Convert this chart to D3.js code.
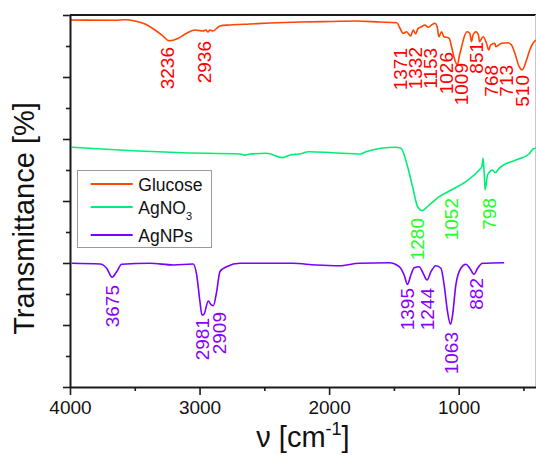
<!DOCTYPE html>
<html>
<head>
<meta charset="utf-8">
<script src="https://cdn.jsdelivr.net/npm/d3@7"></script>
<style>
  html, body { margin: 0; padding: 0; background: #fff; }
  svg { display: block; font-family: "Liberation Sans", Arial, sans-serif; }
</style>
</head>
<body>
<svg id="chart" width="536" height="455"></svg>
<script>
// ---------- data ----------
const seriesNames = ["Glucose", "AgNO3", "AgNPs"];

const glucoseWn = [4000,3653,3576,3498,3421,3344,3282,3236,3167,3097,3035,2974,2951,2935,2920,2897,2843,2765,2611,2457,2225,1994,1801,1608,1477,1454,1428,1402,1371,1351,1332,1313,1287,1261,1235,1209,1184,1166,1153,1132,1114,1093,1073,1055,1037,1009,996,977,957,934,914,901,889,867,847,840,811,785,768,754,721,713,669,618,592,566,533,510,476,451,425,404];
const glucoseT  = [59.19,59.15,59.24,59.03,58.55,57.58,56.61,55.85,56.21,57.10,57.58,57.42,57.58,57.26,57.58,57.42,58.23,58.39,58.55,58.71,58.87,58.95,59.03,58.87,58.76,57.90,57.05,57.31,56.61,57.58,56.94,57.85,58.11,58.39,58.02,58.39,58.66,58.11,56.50,57.31,56.50,56.40,56.24,54.89,53.27,51.94,53.27,54.89,56.50,57.31,57.05,55.69,56.77,57.31,56.77,55.69,56.50,55.44,54.35,55.16,55.44,54.89,55.44,55.53,55.16,53.82,51.66,51.13,52.74,54.35,55.48,55.97];

const agno3Wn = [3987,3514,3128,2688,2650,2611,2482,2359,2302,2231,2154,1973,1755,1716,1485,1446,1394,1356,1317,1284,1228,1150,1047,944,842,821,811,803,796,777,739,718,688,559,456,429,404];
const agno3T  = [38.66,38.11,37.79,37.58,37.40,37.58,37.69,37.00,37.42,37.58,37.95,37.79,37.58,37.95,38.66,38.50,35.53,32.31,29.08,28.44,29.35,30.69,31.89,33.11,35.00,35.53,36.89,34.52,31.77,34.19,35.00,34.56,35.27,36.61,37.58,38.34,38.50];

const agnpsWn = [3987,3769,3717,3675,3640,3601,3383,3203,3049,3022,2997,2981,2966,2933,2909,2894,2868,2843,2791,2688,2482,2282,2102,1922,1768,1536,1459,1421,1395,1369,1343,1305,1274,1244,1214,1176,1137,1112,1086,1063,1047,1022,983,944,914,882,854,816,649];
const agnpsT  = [19.95,19.84,19.15,17.70,18.60,19.79,19.95,19.68,19.84,18.06,13.76,11.61,11.73,13.87,13.23,13.11,15.37,18.60,19.40,19.95,19.95,19.95,19.68,19.56,19.95,20.05,19.40,18.06,16.56,18.06,19.24,19.40,18.34,17.26,18.60,19.56,19.15,16.45,12.15,10.11,11.61,16.45,19.15,19.79,19.15,18.18,19.15,19.95,20.05];

// peak annotations (text, wavenumber where the label sits, value of label top)
const glucoseLabels   = ["3236","2936","1371","1332","1153","1026","1009","851","768","713","510"];
const glucoseLabelWn  = [3248,2966,1454,1338,1222,1099,979,867,748,636,509];
const glucoseLabelTop = [54.84,55.81,54.68,54.84,54.68,54.03,52.26,55.65,51.94,51.94,50.32];

const agno3Labels   = ["1280","1052","798"];
const agno3LabelWn  = [1318,1060,767];
const agno3LabelTop = [27.26,30.48,30.48];

const agnpsLabels   = ["3675","2981","2909","1395","1244","1063","882"];
const agnpsLabelWn  = [3672,2978,2846,1396,1245,1056,863];
const agnpsLabelTop = [16.45,11.13,12.10,15.97,15.97,8.87,17.58];

const xMajorTicks = [4000,3000,2000,1000];
const xMinorTicks = [3500,2500,1500,500];
const yMajorTicks = [0,10,20,30,40,50,60];
const yMinorTicks = [5,15,25,35,45,55];

// ---------- drawing ----------
const svg = d3.select("#chart");
const L = 70, R = 536.4, T = 15, B = 387;
const x = d3.scaleLinear().domain([4000, 400]).range([L, R]);
const y = d3.scaleLinear().domain([0, 60]).range([B, T]);

const lineColors  = ["#FF4500", "#00EE77", "#7A00FF"];
const labelColors = ["#FF0000", "#22FF22", "#8A00FF"];

// frame: top line and faint right edge
svg.append("line").attr("x1", L).attr("x2", 536).attr("y1", T).attr("y2", T)
  .attr("stroke", "#1a1a1a").attr("stroke-width", 2);
svg.append("line").attr("x1", 535.5).attr("x2", 535.5).attr("y1", T).attr("y2", B)
  .attr("stroke", "#c8c8c8").attr("stroke-width", 1);

const mk = (wn, t) => wn.map((w, i) => ({w, t: t[i]}));
const series = [mk(glucoseWn, glucoseT), mk(agno3Wn, agno3T), mk(agnpsWn, agnpsT)];
const line = d3.line().x(d => x(d.w)).y(d => y(d.t)).curve(d3.curveMonotoneX);

series.forEach((s, i) => {
  svg.append("path").datum(s).attr("d", line)
    .attr("fill", "none").attr("stroke", lineColors[i]).attr("stroke-width", 1.6)
    .attr("stroke-linejoin", "round");
});

// axes
function styleAxis(g) {
  g.select(".domain").attr("stroke", "#1a1a1a").attr("stroke-width", 2);
  g.selectAll(".tick line").attr("stroke", "#1a1a1a").attr("stroke-width", 1.6);
}
const yAxisMajor = svg.append("g").attr("transform", `translate(${L},0)`)
  .call(d3.axisLeft(y).tickValues(yMajorTicks).tickSize(7).tickSizeOuter(0).tickFormat(""));
styleAxis(yAxisMajor);
const yAxisMinor = svg.append("g").attr("transform", `translate(${L},0)`)
  .call(d3.axisLeft(y).tickValues(yMinorTicks).tickSize(4).tickSizeOuter(0).tickFormat(""));
styleAxis(yAxisMinor); yAxisMinor.select(".domain").remove();

const xAxisMajor = svg.append("g").attr("transform", `translate(0,${B})`)
  .call(d3.axisBottom(x).tickValues(xMajorTicks).tickSize(8).tickSizeOuter(0).tickPadding(6).tickFormat(d3.format("d")));
styleAxis(xAxisMajor);
xAxisMajor.select(".domain").attr("d", `M${L},0.5H536`);
xAxisMajor.selectAll(".tick text").attr("font-size", 19).attr("fill", "#111")
  .attr("font-family", "Liberation Sans, Arial, sans-serif");
const xAxisMinor = svg.append("g").attr("transform", `translate(0,${B})`)
  .call(d3.axisBottom(x).tickValues(xMinorTicks).tickSize(4).tickSizeOuter(0).tickFormat(""));
styleAxis(xAxisMinor); xAxisMinor.select(".domain").remove();

// axis titles
svg.append("text").attr("transform", "translate(34,218.5) rotate(-90)")
  .attr("text-anchor", "middle").attr("font-size", 29).attr("fill", "#111")
  .text("Transmittance [%]");
const xt = svg.append("text").attr("x", 303).attr("y", 447)
  .attr("text-anchor", "middle").attr("font-size", 29).attr("fill", "#111");
xt.append("tspan").text("ν [cm");
xt.append("tspan").attr("font-size", 18).attr("dy", -12).text("-1");
xt.append("tspan").attr("dy", 12).text("]");

// peak labels
const labelSets = [
  [glucoseLabels, glucoseLabelWn, glucoseLabelTop],
  [agno3Labels, agno3LabelWn, agno3LabelTop],
  [agnpsLabels, agnpsLabelWn, agnpsLabelTop]
];
labelSets.forEach(([txt, wn, top], i) => {
  txt.forEach((t, j) => {
    svg.append("text")
      .attr("transform", `translate(${x(wn[j]) + 6.8},${y(top[j])}) rotate(-90)`)
      .attr("text-anchor", "end").attr("font-size", 19)
      .attr("fill", labelColors[i]).text(t);
  });
});

// legend
const lg = svg.append("g");
lg.append("rect").attr("x", 77.5).attr("y", 170.5).attr("width", 134).attr("height", 77)
  .attr("fill", "#fff").attr("stroke", "#9a9a9a").attr("stroke-width", 1);
const legendRowsY = [184, 207, 235];
seriesNames.forEach((name, i) => {
  const yy = legendRowsY[i];
  lg.append("line").attr("x1", 90.7).attr("x2", 132.7).attr("y1", yy).attr("y2", yy)
    .attr("stroke", lineColors[i]).attr("stroke-width", 1.8);
  const t = lg.append("text").attr("x", 138.3).attr("y", yy + 6.5)
    .attr("font-size", 17.5).attr("fill", "#111");
  if (name === "AgNO3") {
    t.append("tspan").text("AgNO");
    t.append("tspan").attr("font-size", 11).attr("dy", 6).text("3");
  } else {
    t.text(name);
  }
});
</script>
</body>
</html>
